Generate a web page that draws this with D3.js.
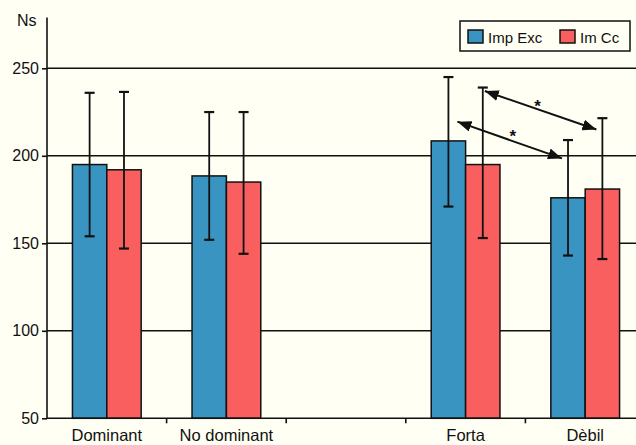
<!DOCTYPE html>
<html>
<head>
<meta charset="utf-8">
<script src="https://cdn.jsdelivr.net/npm/d3@7"></script>
<style>
  html, body { margin: 0; padding: 0; background: #fffff4; }
  svg { display: block; font-family: "Liberation Sans", Arial, Helvetica, sans-serif; }
</style>
</head>
<body>
<svg id="chart" width="636" height="445"></svg>
<script>
// ---- data ----
const categories = ["Dominant", "No dominant", "", "Forta", "Dèbil"];
const seriesNames = ["Imp Exc", "Im Cc"];
const impExc     = [195, 188.5, null, 208.5, 176];
const impExcLow  = [154, 152, null, 171, 143];
const impExcHigh = [236, 225, null, 245, 209];
const imCc       = [192, 185, null, 195, 181];
const imCcLow    = [147, 144, null, 153, 141];
const imCcHigh   = [236.5, 225, null, 239, 221.5];
const yTicks = [50, 100, 150, 200, 250];
const yAxisTop = 279;
// significance arrows: [category, series, value] from -> to
const arrows = [
  { from: ["Forta", "Imp Exc", 219.5], to: ["Dèbil", "Imp Exc", 198.5] },
  { from: ["Forta", "Im Cc", 237], to: ["Dèbil", "Im Cc", 215] }
];

// ---- layout ----
const svg = d3.select("#chart");
const colors = { "Imp Exc": "#3a94c1", "Im Cc": "#fa5f60" };
const x = d3.scaleBand().domain(categories).range([47, 645]).paddingInner(0).paddingOuter(0);
const xs = d3.scaleBand().domain(seriesNames).range([0, x.bandwidth()]).paddingInner(0).paddingOuter(0.74);
const y = d3.scaleLinear().domain([50, 250]).range([418.3, 68.3]);

const rows = [];
categories.forEach((c, i) => {
  if (impExc[i] != null) rows.push({ cat: c, s: "Imp Exc", v: impExc[i], lo: impExcLow[i], hi: impExcHigh[i] });
  if (imCc[i] != null) rows.push({ cat: c, s: "Im Cc", v: imCc[i], lo: imCcLow[i], hi: imCcHigh[i] });
});

// gridlines
svg.append("g").selectAll("line").data(yTicks.slice(1)).join("line")
  .attr("x1", 47).attr("x2", 636)
  .attr("y1", d => y(d)).attr("y2", d => y(d))
  .attr("stroke", "#111").attr("stroke-width", 1.6);

// bars
svg.append("g").selectAll("rect").data(rows).join("rect")
  .attr("x", d => x(d.cat) + xs(d.s))
  .attr("width", xs.bandwidth())
  .attr("y", d => y(d.v))
  .attr("height", d => y(50) - y(d.v))
  .attr("fill", d => colors[d.s])
  .attr("stroke", "#111").attr("stroke-width", 1.5);

// error bars
const eb = svg.append("g").attr("stroke", "#111").attr("stroke-width", 1.8);
rows.forEach(d => {
  const cx = x(d.cat) + xs(d.s) + xs.bandwidth() / 2;
  eb.append("line").attr("x1", cx).attr("x2", cx).attr("y1", y(d.lo)).attr("y2", y(d.hi));
  eb.append("line").attr("x1", cx - 5).attr("x2", cx + 5).attr("y1", y(d.lo)).attr("y2", y(d.lo)).attr("stroke-width", 2.2);
  eb.append("line").attr("x1", cx - 5).attr("x2", cx + 5).attr("y1", y(d.hi)).attr("y2", y(d.hi)).attr("stroke-width", 2.2);
});

// y axis
const yAxis = d3.axisLeft(y).tickValues(yTicks).tickSize(5).tickPadding(3).tickFormat(d3.format("d"));
const ga = svg.append("g").attr("transform", "translate(47,0)").call(yAxis);
ga.select(".domain").remove();
ga.selectAll(".tick line").attr("stroke", "#111").attr("stroke-width", 1.6);
ga.selectAll(".tick text").attr("font-size", 16).attr("fill", "#111").attr("font-family", "Liberation Sans, Arial, sans-serif");
svg.append("line").attr("x1", 47).attr("x2", 47).attr("y1", y(50)).attr("y2", y(yAxisTop))
  .attr("stroke", "#111").attr("stroke-width", 1.6);

// x axis
svg.append("line").attr("x1", 47).attr("x2", 636).attr("y1", y(50)).attr("y2", y(50))
  .attr("stroke", "#111").attr("stroke-width", 1.6);
svg.append("g").selectAll("line").data(categories.slice(1)).join("line")
  .attr("x1", d => x(d)).attr("x2", d => x(d))
  .attr("y1", y(50)).attr("y2", y(50) + 5)
  .attr("stroke", "#111").attr("stroke-width", 1.6);
svg.append("g").selectAll("text").data(categories).join("text")
  .attr("x", d => x(d) + x.bandwidth() / 2)
  .attr("y", 441)
  .attr("text-anchor", "middle")
  .attr("font-size", 16.5).attr("fill", "#111")
  .text(d => d);

// y title
svg.append("text").attr("x", 17).attr("y", 26).attr("font-size", 16).attr("fill", "#111").text("Ns");

// arrows
const defs = svg.append("defs");
defs.append("marker").attr("id", "ah").attr("viewBox", "0 0 14 11")
  .attr("refX", 14).attr("refY", 5.5).attr("markerWidth", 14).attr("markerHeight", 11)
  .attr("markerUnits", "userSpaceOnUse").attr("orient", "auto-start-reverse")
  .append("path").attr("d", "M0,0 L14,5.5 L0,11 Z").attr("fill", "#111");
const px = (c, s, off) => x(c) + xs(s) + xs.bandwidth() / 2 + off;
arrows.forEach((a, i) => {
  const x1 = px(a.from[0], a.from[1], i === 0 ? 9 : 2);
  const x2 = px(a.to[0], a.to[1], -6);
  const y1 = y(a.from[2]), y2 = y(a.to[2]);
  svg.append("line").attr("x1", x1).attr("y1", y1).attr("x2", x2).attr("y2", y2)
    .attr("stroke", "#111").attr("stroke-width", 2)
    .attr("marker-start", "url(#ah)").attr("marker-end", "url(#ah)");
  svg.append("text").attr("x", (x1 + x2) / 2 + (i === 0 ? 3 : -3)).attr("y", (y1 + y2) / 2 + 2)
    .attr("text-anchor", "middle").attr("font-size", 17).attr("font-weight", "bold").attr("fill", "#111").text("*");
});

// legend
const lg = svg.append("g");
lg.append("rect").attr("x", 460).attr("y", 21).attr("width", 170).attr("height", 30)
  .attr("fill", "#fffff4").attr("stroke", "#111").attr("stroke-width", 1.5);
const legendItems = [{ s: "Imp Exc", x: 468 }, { s: "Im Cc", x: 560 }];
legendItems.forEach(it => {
  lg.append("rect").attr("x", it.x).attr("y", 30).attr("width", 15).attr("height", 13)
    .attr("fill", colors[it.s]).attr("stroke", "#111").attr("stroke-width", 1.5);
  lg.append("text").attr("x", it.x + 20).attr("y", 43).attr("font-size", 15).attr("fill", "#111").text(it.s);
});
</script>
</body>
</html>
